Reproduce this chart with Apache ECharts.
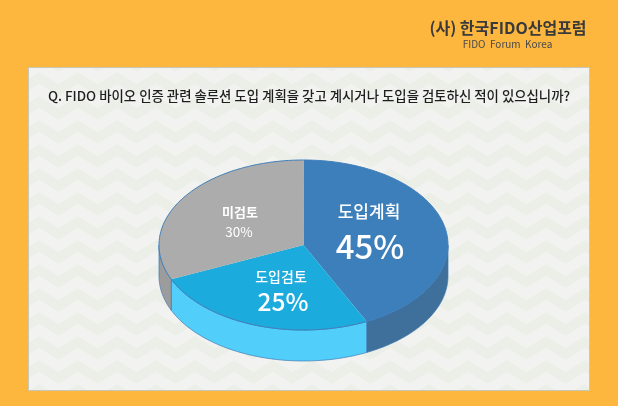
<!DOCTYPE html>
<html>
<head>
<meta charset="utf-8">
<style>html,body{margin:0;padding:0;background:#FDB73E}#c{width:618px;height:406px}</style>
<script src="https://cdn.jsdelivr.net/npm/echarts@6/dist/echarts.min.js"></script>
</head>
<body>
<div id="c"></div>
<script>
// Printed answers and percentages
const categories = ['도입계획', '도입검토', '미검토'];
const percentLabels = ['45%', '25%', '30%'];
// Slice widths as drawn in the picture (%), measured from the boundaries on the rim
const drawnShares = [42.8, 25.6, 31.6];
const topColors = ['#3D7FBB', '#1BABDC', '#ACACAC'];
const sideColors = ['#3F6F9B', '#52CEFB', '#9C9C9C'];
const questionText = 'Q. FIDO 바이오 인증 관련 솔루션 도입 계획을 갖고 계시거나 도입을 검토하신 적이 있으십니까?';
const FONT = '"Noto Sans CJK KR"';

const cx = 303.5, cy = 245, rx = 144.5, ry = 85, depth = 31;

function tile() {
  const w = 39, h = 24, c = document.createElement('canvas');
  c.width = w; c.height = h;
  const g = c.getContext('2d');
  g.fillStyle = '#F2F3F0'; g.fillRect(0, 0, w, h);
  g.strokeStyle = '#EBEFE7'; g.lineWidth = 10; g.lineJoin = 'miter';
  for (let k = -1; k <= 2; k++) {
    const y = k * h;
    g.beginPath();
    for (let i = -1; i <= 2; i++) {
      g.lineTo(i * w, y + 6);
      g.lineTo(i * w + w / 2, y + 18);
    }
    g.stroke();
  }
  return c;
}

function pt(turn, dy) {
  const t = turn * Math.PI * 2;
  return [cx + rx * Math.sin(t), cy - ry * Math.cos(t) + (dy || 0)];
}
function arc(from, to, dy) {
  const n = Math.max(2, Math.ceil((to - from) * 360));
  const out = [];
  for (let i = 0; i <= n; i++) out.push(pt(from + (to - from) * i / n, dy));
  return out;
}

const starts = [];
drawnShares.reduce((s, v, i) => { starts[i] = s; return s + v; }, 0);

const chart = echarts.init(document.getElementById('c'), null, { renderer: 'canvas', width: 618, height: 406 });

function txt(text, x, y, size, fill, weight) {
  return { type: 'text', x, y, silent: true, z: 10,
    style: { text, fill, font: (weight || 400) + ' ' + size + 'px ' + FONT, textAlign: 'center', textVerticalAlign: 'middle' } };
}

chart.setOption({
  animation: false,
  backgroundColor: '#FDB73E',
  graphic: [
    { type: 'rect', z: 0, shape: { x: 28.5, y: 67.5, width: 561, height: 323 },
      style: { fill: { image: tile(), repeat: 'repeat' }, stroke: '#C9C7B8', lineWidth: 1 }, silent: true },
    txt('(사) 한국FIDO산업포럼', 508, 28, 16, '#3A3A3A', 700),
    txt('FIDO  Forum  Korea', 507.5, 44.5, 10, '#4A4A4A', 400),
    txt(questionText, 309, 96, 13.4, '#1E1E1E', 500),
    txt(categories[0], 369, 212, 17, '#FFFFFF', 500),
    txt(percentLabels[0], 370, 246, 33, '#FFFFFF', 500),
    txt(categories[1], 281, 277, 14, '#FFFFFF', 500),
    txt(percentLabels[1], 283, 302, 24.5, '#FFFFFF', 500),
    txt(categories[2], 240, 212, 13, '#FFFFFF', 700),
    txt(percentLabels[2], 239, 232, 13.5, '#FFFFFF', 400)
  ],
  series: [{
    type: 'custom',
    coordinateSystem: 'none',
    silent: true,
    z: 5,
    data: drawnShares.map((v, i) => ({ value: [starts[i], v], name: categories[i] })),
    renderItem(params, api) {
      const i = params.dataIndex;
      const from = api.value(0) / 100, to = from + api.value(1) / 100;
      const children = [];
      // rim: only the part of the slice facing the viewer (quarter to three-quarter turn)
      const a = Math.max(from, 0.25), b = Math.min(to, 0.75);
      if (b > a) {
        const upper = arc(a, b, 0), lower = arc(a, b, depth).reverse();
        children.push({ type: 'polygon', shape: { points: upper.concat(lower) },
          style: { fill: sideColors[i], stroke: '#3F7AB2', lineWidth: 0.7 } });
      }
      children.push({ type: 'polygon',
        shape: { points: [[cx, cy]].concat(arc(from, to, 0)) },
        style: { fill: topColors[i] } });
      children.push({ type: 'polyline', shape: { points: arc(from, to, 0) },
        style: { fill: 'none', stroke: '#3F7FBB', lineWidth: 1 } });
      return { type: 'group', children };
    }
  }]
});
</script>
</body>
</html>
